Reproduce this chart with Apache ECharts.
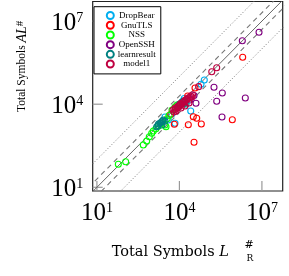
<!DOCTYPE html>
<html><head><meta charset="utf-8">
<script src="https://cdn.jsdelivr.net/npm/echarts@6/dist/echarts.min.js"></script>
<style>html,body{margin:0;padding:0;background:#fff}#c{width:289px;height:276px}</style>
</head><body><div id="c"></div>
<script>
// ---- data (x = Total Symbols L_R#, y = Total Symbols AL#) ----
const tickValues = [10, 1e4, 1e7];
const seriesNames = ['DropBear', 'GnuTLS', 'NSS', 'OpenSSH', 'learnresult', 'model1'];
const dropBear = [[80400,74800],[61000,52300],[25800,5680],[2990,3450],[3950,2690],[6920,2040],[5200,4300],[9500,9800],[15000,16000]];
const gnuTLS = [[2.0e6,4.93e5],[36900,38500],[20000,19800],[32000,3540],[42600,3100],[62600,1930],[21100,1820],[6530,1880],[8.39e5,2750],[34000,421],[4830,4310]];
const nss = [[60,68],[111,84],[486,337],[647,469],[803,671],[984,890],[1125,1080],[1400,1300],[1700,1600],[2200,2000],[2990,1770],[3260,1540],[3600,3000],[4200,3900],[5390,6180],[6920,7920],[8180,9360]];
const openSSH = [[7.85e6,3.94e6],[1.94e6,1.96e6],[1.81e5,4.08e4],[3.63e5,2.54e4],[2.49e6,1.67e4],[2.27e5,1.27e4],[3.54e5,3450],[34000,20600],[40000,10800],[24300,14200]];
const learnresult = [[1500,1540],[1650,1700],[1740,1930],[1970,2040],[2100,2150],[2240,2280],[2450,2500],[2600,2690],[2300,1770],[2990,2470],[8890,7920],[9800,9000],[10500,10200],[12400,12000],[13500,12800],[14700,13100],[16000,11500],[17400,10200]];
const model1 = [[1.5e5,1.49e5],[2.27e5,2.08e5],[5850,6180],[7000,6500],[6920,7300],[8180,7300],[8890,8610],[9500,8000],[10500,9360],[11000,10500],[12400,10200],[13500,11500],[14700,12000],[15500,13500],[17400,14200],[19000,15000],[20500,16700],[24000,17500],[25800,19800],[28700,18200],[30000,22000],[7520,5680],[6370,5220],[11400,7300],[16000,8610],[22300,11000],[50000,43000]];
const refFactors = [1, 2, 0.5, 10, 0.1];
const refKinds = ['solid', 'dashed', 'dashed', 'dotted', 'dotted'];

const colors = ['#00AEEF', '#FF0000', '#00FF00', '#800080', '#008080', '#BF0040'];
const seriesData = [dropBear, gnuTLS, nss, openSSH, learnresult, model1];

const chart = echarts.init(document.getElementById('c'), null, {renderer: 'canvas'});
const serif = 'Liberation Serif';
const lineStyles = {
  solid: {color: '#666', width: 1, type: 'solid'},
  dashed: {color: '#777', width: 1.1, type: [5, 4]},
  dotted: {color: '#777', width: 1, type: [1, 2]}
};
const series = [];
refFactors.forEach((k, i) => {
  series.push({
    type: 'line', silent: true, showSymbol: false, symbol: 'none', clip: true, z: 1,
    data: [[1, k], [1e9, 1e9 * k]],
    lineStyle: lineStyles[refKinds[i]]
  });
});
// inside tick marks at the labelled decades, placed through the axes' scales
series.push({
  type: 'custom', silent: true, z: 1,
  data: tickValues.map(v => [v, v]),
  renderItem: function (params, api) {
    const cs = params.coordSys;
    const p = api.coord([api.value(0), api.value(1)]);
    const st = {stroke: '#999', lineWidth: 1.2};
    const bottom = cs.y + cs.height;
    return {type: 'group', children: [
      {type: 'line', shape: {x1: p[0], y1: bottom, x2: p[0], y2: bottom - 10}, style: st},
      {type: 'line', shape: {x1: cs.x, y1: p[1], x2: cs.x + 10, y2: p[1]}, style: st}
    ]};
  }
});
seriesNames.forEach((name, i) => {
  series.push({
    name: name, type: 'scatter', symbol: 'circle', symbolSize: 6, z: 2 + i,
    data: seriesData[i],
    itemStyle: {color: 'rgba(255,255,255,0)', borderColor: colors[i], borderWidth: 1.1, opacity: 1},
    emphasis: {disabled: true}
  });
});
const tickRich = {
  a: {fontFamily: serif, fontSize: 25, lineHeight: 25, color: '#000'},
  b: {fontFamily: serif, fontSize: 14, lineHeight: 14, verticalAlign: 'top', color: '#000'}
};
const fmt = v => '{a|10}{b|' + Math.round(Math.log10(v)) + '}';
const axisCommon = {
  type: 'log', logBase: 10,
  axisLine: {show: false},
  splitLine: {show: false},
  axisTick: {show: false},
  minorTick: {show: false}
};
chart.setOption({
  animation: false,
  backgroundColor: '#fff',
  grid: {left: 92.7, top: 1.5, width: 190, height: 189.5, show: true, borderColor: '#222', borderWidth: 1.2, backgroundColor: 'transparent'},
  xAxis: Object.assign({}, axisCommon, {
    min: 7.03, max: 5.7e7,
    axisLabel: {customValues: tickValues, formatter: fmt, rich: tickRich, margin: 10}
  }),
  yAxis: Object.assign({}, axisCommon, {
    min: 7.35, max: 5.1e7,
    axisLabel: {customValues: tickValues, formatter: fmt, rich: tickRich, margin: 9.4, padding: [5, 0, 0, 0]}
  }),
  legend: {
    data: seriesNames, orient: 'vertical', left: 94, top: 6.7,
    padding: [4, 5, 5, 11.8], itemWidth: 7, itemHeight: 7, itemGap: 0,
    icon: 'circle', borderColor: '#000', borderWidth: 1, backgroundColor: '#fff',
    formatter: '{c|{name}}',
    textStyle: {fontFamily: serif, fontSize: 9, color: '#000', lineHeight: 9.7,
      rich: {c: {fontFamily: serif, fontSize: 9, width: 36, align: 'center', lineHeight: 9.7, color: '#000'}}}
  },
  graphic: [
    {type: 'text', x: 111.7, y: 252, silent: true,
      style: {text: '{n|Total Symbols }{i|L}', textVerticalAlign: 'middle', textAlign: 'left',
        rich: {n: {fontFamily: 'DejaVu Serif', fontSize: 14.5, fill: '#000'},
               i: {fontFamily: 'DejaVu Serif', fontStyle: 'italic', fontSize: 14.5, fill: '#000'}}}},
    {type: 'text', x: 244.5, y: 245.5, silent: true,
      style: {text: '#', fontFamily: 'DejaVu Serif', fontSize: 11, fill: '#000', textVerticalAlign: 'middle', textAlign: 'left'}},
    {type: 'text', x: 246.5, y: 258.5, silent: true,
      style: {text: 'R', fontFamily: 'DejaVu Serif', fontSize: 9, fill: '#000', textVerticalAlign: 'middle', textAlign: 'left'}},
    {type: 'text', x: 22, y: 112, rotation: Math.PI / 2, silent: true,
      style: {text: '{n|Total Symbols }{i|AL}{s|#}', textVerticalAlign: 'middle', textAlign: 'left',
        rich: {n: {fontFamily: serif, fontSize: 11.5, fill: '#000'},
               i: {fontFamily: serif, fontStyle: 'italic', fontSize: 14, fill: '#000'},
               s: {fontFamily: serif, fontSize: 11, verticalAlign: 'top', fill: '#000'}}}}
  ],
  series: series
});
</script></body></html>
